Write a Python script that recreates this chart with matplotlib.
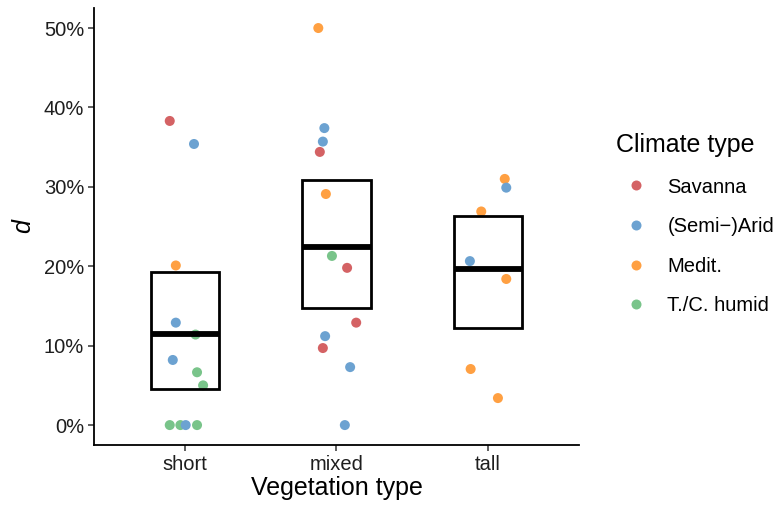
import numpy as np
import matplotlib.pyplot as plt
from matplotlib.patches import Rectangle
from matplotlib.lines import Line2D

plt.rcParams['font.family'] = ['Liberation Sans', 'DejaVu Sans']

veg_types = ['short', 'mixed', 'tall']
climates = ['Savanna', '(Semi\u2212)Arid', 'Medit.', 'T./C. humid']
colors = ['#D46264', '#6CA2D1', '#FFA042', '#79C48A']

# points: vegetation index, jittered x offset, value (%), climate index
pt_veg = [0] * 12 + [1] * 12 + [2] * 7
pt_dx = [-0.10, 0.06, -0.06, -0.06, 0.07, -0.08, 0.08, 0.12, -0.10, -0.03, 0.005, 0.08,
         -0.12, -0.08, -0.09, -0.11, -0.07, -0.03, 0.07, 0.13, -0.075, -0.09, 0.09, 0.055,
         0.11, 0.12, -0.045, -0.12, 0.12, -0.115, 0.065]
pt_val = [38.3, 35.4, 20.1, 12.9, 11.4, 8.2, 6.65, 5.0, 0.0, 0.0, 0.0, 0.0,
          50.0, 37.4, 35.7, 34.4, 29.1, 21.3, 19.8, 12.9, 11.2, 9.7, 7.3, 0.0,
          31.0, 29.9, 26.9, 20.65, 18.4, 7.06, 3.4]
pt_clim = [0, 1, 2, 1, 3, 1, 3, 3, 3, 3, 1, 3,
           2, 1, 1, 0, 2, 3, 0, 0, 1, 0, 1, 1,
           2, 1, 2, 1, 2, 2, 2]

# crossbars
box_low = [4.55, 14.7, 12.2]
box_mid = [11.5, 22.4, 19.65]
box_high = [19.3, 30.9, 26.35]

fig = plt.figure(figsize=(7.83, 5.12), dpi=100)
ax = fig.add_axes([0.120, 0.131, 0.6195, 0.853])

xs = np.array(pt_veg) + 1 + np.array(pt_dx)
cols = [colors[c] for c in pt_clim]
ax.scatter(xs, pt_val, s=52, c=cols, linewidths=0, zorder=2)

w = 0.45
for i in range(3):
    x0 = i + 1 - w / 2
    ax.add_patch(Rectangle((x0, box_low[i]), w, box_high[i] - box_low[i],
                           fill=False, edgecolor='black', lw=2.0, zorder=3))
    ax.plot([x0, x0 + w], [box_mid[i], box_mid[i]], color='black', lw=4.2,
            solid_capstyle='butt', zorder=3)

ax.set_xlim(0.4, 3.6)
ax.set_ylim(-2.5, 52.5)
ax.set_xticks([1, 2, 3])
ax.set_xticklabels(veg_types)
ax.set_yticks([0, 10, 20, 30, 40, 50])
ax.set_yticklabels(['0%', '10%', '20%', '30%', '40%', '50%'])
ax.tick_params(labelsize=14.5, labelcolor='#1e1e1e', length=4, width=1.1, color='#333333',
               pad=3)
for s in ['top', 'right']:
    ax.spines[s].set_visible(False)
for s in ['left', 'bottom']:
    ax.spines[s].set_linewidth(1.3)

ax.set_xlabel('Vegetation type', fontsize=18, labelpad=2)
ax.set_ylabel('d', fontsize=18, style='italic', labelpad=6)

handles = [Line2D([], [], marker='o', ls='', color=c, markersize=7.2, markeredgewidth=0)
           for c in colors]
leg = fig.legend(handles, climates, loc='upper left', bbox_to_anchor=(0.7765, 0.756),
                 frameon=False, title='Climate type', fontsize=14.5, title_fontsize=18,
                 labelspacing=1.02, handletextpad=0.55, borderaxespad=0)
leg._legend_box.align = 'left'

fig.savefig('out.png', dpi=100)
